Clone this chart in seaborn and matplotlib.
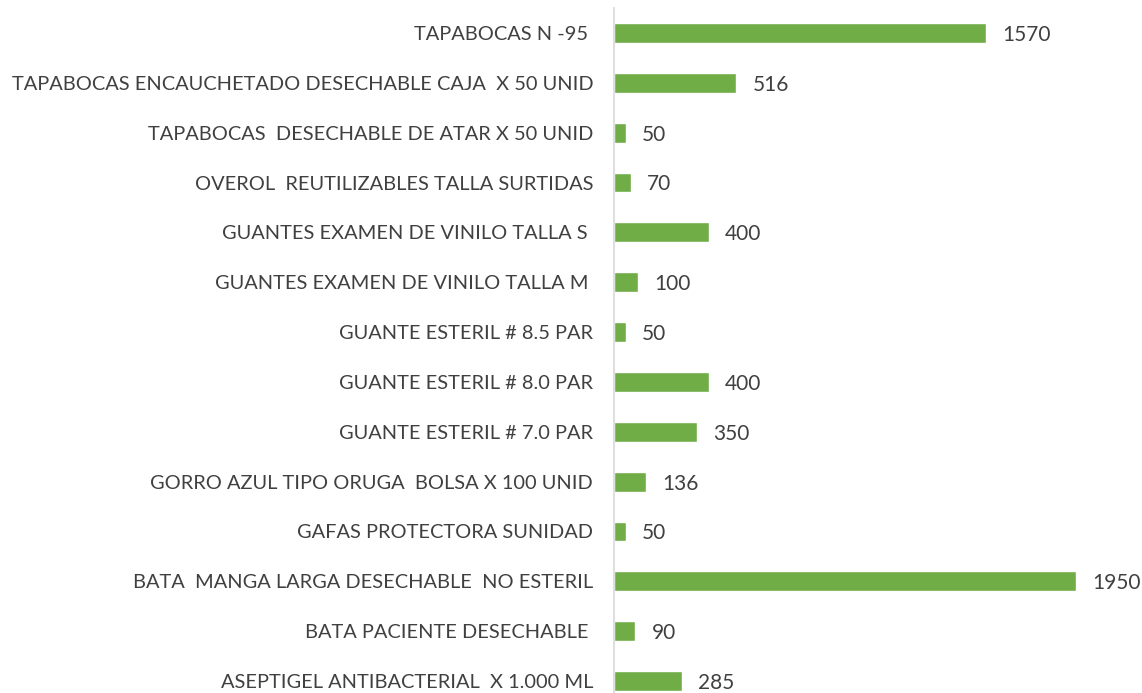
import matplotlib
matplotlib.use("Agg")
import matplotlib.pyplot as plt
import seaborn as sns
import pandas as pd

# items listed top to bottom as in the chart
items = [
    "TAPABOCAS N -95 ",
    "TAPABOCAS ENCAUCHETADO DESECHABLE CAJA  X 50 UNID",
    "TAPABOCAS  DESECHABLE DE ATAR X 50 UNID",
    "OVEROL  REUTILIZABLES TALLA SURTIDAS",
    "GUANTES EXAMEN DE VINILO TALLA S ",
    "GUANTES EXAMEN DE VINILO TALLA M ",
    "GUANTE ESTERIL # 8.5 PAR",
    "GUANTE ESTERIL # 8.0 PAR",
    "GUANTE ESTERIL # 7.0 PAR",
    "GORRO AZUL TIPO ORUGA  BOLSA X 100 UNID",
    "GAFAS PROTECTORA SUNIDAD",
    "BATA  MANGA LARGA DESECHABLE  NO ESTERIL",
    "BATA PACIENTE DESECHABLE ",
    "ASEPTIGEL ANTIBACTERIAL  X 1.000 ML",
]
cantidades = [1570, 516, 50, 70, 400, 100, 50, 400, 350, 136, 50, 1950, 90, 285]

df = pd.DataFrame({"item": items, "cantidad": cantidades})

sns.set_style("white")
plt.rcParams["font.family"] = ["Lato", "DejaVu Sans"]
txt = "#404040"

fig = plt.figure(figsize=(11.42, 6.93), dpi=100)
ax = fig.add_axes([614 / 1142, -13 / 693, 1 - 614 / 1142, 698 / 693])

sns.barplot(data=df, y="item", x="cantidad", orient="h", color="#70AD47",
            saturation=1, width=0.4, ax=ax)

for i, v in enumerate(cantidades):
    ax.text(v + 68, i + 0.04, str(v), va="center", ha="left", fontsize=15, color=txt)

ax.set_xlim(0, 2228)
ax.set_xlabel("")
ax.set_ylabel("")
ax.set_xticks([])
ax.tick_params(axis="y", length=0, pad=15, labelsize=14.4, labelcolor=txt)
for s in ["top", "right", "bottom"]:
    ax.spines[s].set_visible(False)
ax.spines["left"].set_color("#d9d9d9")
ax.spines["left"].set_linewidth(1.2)

fig.savefig("out.png", dpi=100)
